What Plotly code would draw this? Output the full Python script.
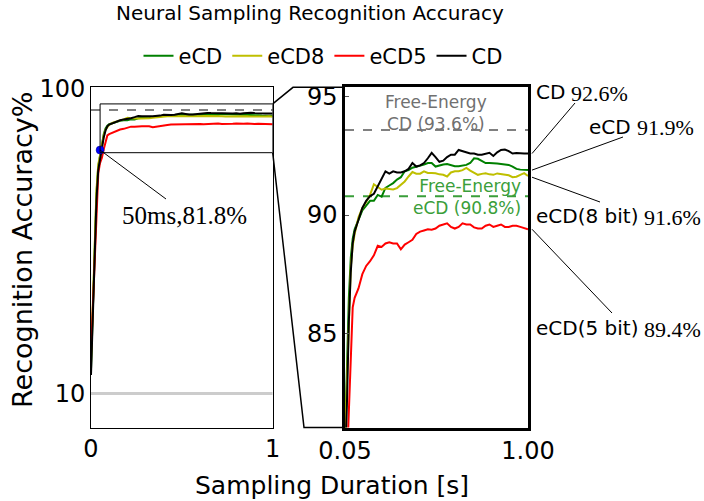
import plotly.graph_objects as go

# ---------------- data ----------------
T = [0.0, 0.01, 0.02, 0.03, 0.04, 0.05, 0.06, 0.07, 0.08, 0.09, 0.10, 0.12, 0.14, 0.16, 0.18,
     0.20, 0.22, 0.24, 0.26, 0.28, 0.30, 0.32, 0.34, 0.36, 0.38, 0.40, 0.42, 0.44, 0.46, 0.48,
     0.50, 0.52, 0.54, 0.56, 0.58, 0.60, 0.62, 0.64, 0.66, 0.68, 0.70, 0.72, 0.74, 0.76, 0.78,
     0.80, 0.82, 0.84, 0.86, 0.88, 0.90, 0.92, 0.94, 0.96, 0.98, 1.00]

CD = [15.5, 33, 53, 67, 76, 79.5, 82, 85.5, 87.6, 88.8, 89.3, 89.8, 90.3, 90.6, 90.8,
      90.9, 91.2, 91.5, 91.85, 91.75, 91.85, 91.8, 91.8, 91.85, 91.95, 92.2, 92.05, 92.1, 92.2, 92.4,
      92.63, 92.45, 92.25, 92.3, 92.45, 92.55, 92.55, 92.75, 92.7, 92.65, 92.6, 92.6, 92.55, 92.55, 92.6,
      92.63, 92.5, 92.65, 92.75, 92.77, 92.7, 92.6, 92.62, 92.6, 92.6, 92.6]

ECD = [17, 36, 56, 69, 77, 80.5, 83.5, 86.5, 88.2, 89.0, 89.4, 89.8, 90.2, 90.4, 90.6,
       90.6, 90.85, 90.78, 91.15, 91.25, 91.35, 91.5, 91.6, 91.85, 91.9, 92.0, 92.04, 92.1, 92.13, 92.2,
       92.2, 92.05, 92.1, 92.14, 92.16, 92.1, 92.06, 92.06, 92.08, 92.12, 92.2, 92.4, 92.38, 92.28, 92.2,
       92.2, 92.2, 92.18, 92.16, 92.14, 92.12, 92.05, 91.95, 91.92, 91.92, 91.9]

ECD8 = [19, 38, 57, 70, 77.5, 80.5, 83, 86, 87.8, 88.7, 89.2, 89.9, 90.3, 90.55, 90.85,
        91.3, 91.2, 91.07, 91.12, 91.1, 91.08, 91.14, 91.3, 91.42, 91.63, 91.82, 91.75, 91.75, 91.85, 91.78,
        91.78, 91.77, 91.72, 91.7, 91.63, 91.8, 91.85, 91.85, 91.9, 91.99, 91.88, 91.78, 91.7, 91.74, 91.77,
        91.72, 91.7, 91.76, 91.74, 91.72, 91.68, 91.6, 91.62, 91.7, 91.77, 91.65]

ECD5 = [22, 35, 52, 65, 75, 78, 79.5, 82, 84.5, 86.1, 86.5, 86.9, 87.5, 87.85, 88.05,
        88.3, 88.7, 88.65, 88.8, 88.85, 88.8, 88.8, 88.55, 88.75, 88.85, 88.95, 89.2, 89.3, 89.35, 89.4,
        89.38, 89.43, 89.55, 89.6, 89.65, 89.5, 89.43, 89.5, 89.65, 89.6, 89.6, 89.48, 89.43, 89.43, 89.55,
        89.6, 89.5, 89.55, 89.6, 89.5, 89.5, 89.55, 89.55, 89.5, 89.46, 89.4]

SERIES_NAMES = ["eCD", "eCD8", "eCD5", "CD"]
SERIES_VALUES = [ECD, ECD8, ECD5, CD]
SERIES_COLORS = ["#008000", "#bfbf00", "#ff0000", "#000000"]

FE_CD = 93.6
FE_ECD = 90.8
CHANCE = 10
MARK_T, MARK_ACC = 0.05, 81.8
FINAL_LABELS = ["CD", "eCD", "eCD(8 bit)", "eCD(5 bit)"]
FINAL_VALUES = [92.6, 91.9, 91.6, 89.4]

# ---------------- layout geometry (pixels) ----------------
W, H = 704, 501
LX = (91.0, 272.7)
RX = (345.0, 528.0)
YB, YT = 427.5, 87.3
L_XR = [0, 1]
L_YR = [0, 100.3]
R_XR = [0.05, 1.0]
R_YR = [81.02, 95.4]

FONT = "DejaVu Sans"
SERIF = "Liberation Serif"
LABEL_SIZE = 20
# DejaVu Sans advance widths (em) for the label characters
DV_W = {"C": 0.698, "D": 0.770, "e": 0.615, "(": 0.390, ")": 0.390, "8": 0.636, "5": 0.636,
        " ": 0.318, "b": 0.635, "i": 0.278, "t": 0.392}


def text_w(s, size):
    return sum(DV_W.get(c, 0.6) for c in s) * size


def pxx(x):
    return x / W


def pxy(y):
    return 1 - y / H


def l_pix(t, v):
    x = LX[0] + (t - L_XR[0]) / (L_XR[1] - L_XR[0]) * (LX[1] - LX[0])
    y = YB - (v - L_YR[0]) / (L_YR[1] - L_YR[0]) * (YB - YT)
    return x, y


def r_pix(t, v):
    x = RX[0] + (t - R_XR[0]) / (R_XR[1] - R_XR[0]) * (RX[1] - RX[0])
    y = YB - (v - R_YR[0]) / (R_YR[1] - R_YR[0]) * (YB - YT)
    return x, y


fig = go.Figure()

for name, vals, col in zip(SERIES_NAMES, SERIES_VALUES, SERIES_COLORS):
    fig.add_trace(go.Scatter(x=T, y=vals, mode="lines", name=name, legendgroup=name,
                             line=dict(color=col, width=2), xaxis="x", yaxis="y"))
for name, vals, col in zip(SERIES_NAMES, SERIES_VALUES, SERIES_COLORS):
    fig.add_trace(go.Scatter(x=T, y=vals, mode="lines", name=name, legendgroup=name,
                             showlegend=False, line=dict(color=col, width=2),
                             xaxis="x2", yaxis="y2"))

fig.add_trace(go.Scatter(x=[MARK_T], y=[MARK_ACC], mode="markers", showlegend=False,
                         marker=dict(color="#0000ff", size=8, line=dict(color="#000080", width=0.5)),
                         xaxis="x", yaxis="y", cliponaxis=False))

shapes = []
# chance line and free-energy line on left panel
shapes.append(dict(type="line", xref="x", yref="y", x0=0, x1=1, y0=CHANCE, y1=CHANCE,
                   line=dict(color="#cccccc", width=3), layer="below"))
shapes.append(dict(type="line", xref="x", yref="y", x0=0, x1=1, y0=FE_CD, y1=FE_CD,
                   line=dict(color="#808080", width=2, dash="dash"), layer="below"))
# inset rectangle
shapes.append(dict(type="rect", xref="x", yref="y", x0=R_XR[0], x1=R_XR[1], y0=R_YR[0], y1=R_YR[1],
                   line=dict(color="black", width=1)))
# free energy lines in right panel
shapes.append(dict(type="line", xref="x2", yref="y2", x0=R_XR[0], x1=R_XR[1], y0=FE_CD, y1=FE_CD,
                   line=dict(color="#808080", width=2, dash="dash"), layer="below"))
shapes.append(dict(type="line", xref="x2", yref="y2", x0=R_XR[0], x1=R_XR[1], y0=FE_ECD, y1=FE_ECD,
                   line=dict(color="#3a9e3a", width=2, dash="dash"), layer="below"))

# connectors between the inset rectangle and the zoom panel
ax0, ay0 = l_pix(R_XR[1], R_YR[1])
ax1, ay1 = l_pix(R_XR[1], R_YR[0])
for (sx, sy), (mx, my), (ex, ey) in [((ax0, ay0), (293, YT), (RX[0], YT)),
                                      ((ax1, ay1), (304, YB), (RX[0], YB))]:
    path = f"M{pxx(sx)},{pxy(sy)} L{pxx(mx)},{pxy(my)} L{pxx(ex)},{pxy(ey)}"
    shapes.append(dict(type="path", xref="paper", yref="paper", path=path,
                       line=dict(color="black", width=1.5)))

# leader for the 50 ms marker
mx_, my_ = l_pix(MARK_T, MARK_ACC)
shapes.append(dict(type="line", xref="paper", yref="paper", x0=pxx(mx_), y0=pxy(my_),
                   x1=pxx(166), y1=pxy(199), line=dict(color="black", width=1)))

# leaders for the final-value labels
LEAD_END = [(575, 103), (623, 137), (600, 202), (612, 313)]
TEXT_POS = [(537, 92), (590, 127), (537, 216), (537, 328)]
for v, (ex, ey) in zip(FINAL_VALUES, LEAD_END):
    sx, sy = r_pix(R_XR[1], v)
    shapes.append(dict(type="line", xref="paper", yref="paper", x0=pxx(sx + 4), y0=pxy(sy),
                       x1=pxx(ex), y1=pxy(ey), line=dict(color="black", width=1)))

annotations = []
for lab, v, (tx, ty) in zip(FINAL_LABELS, FINAL_VALUES, TEXT_POS):
    annotations.append(dict(text=lab, xref="paper", yref="paper", x=pxx(tx - 3), y=pxy(ty),
                            xanchor="left", yanchor="middle", showarrow=False,
                            font=dict(family=FONT, size=LABEL_SIZE, color="black")))
    vx = tx + text_w(lab, LABEL_SIZE) + 3
    annotations.append(dict(text=f"{v:.1f}%", xref="paper", yref="paper", x=pxx(vx), y=pxy(ty + 1),
                            xanchor="left", yanchor="middle", showarrow=False,
                            font=dict(family=SERIF, size=22, color="black")))

annotations.append(dict(text=f"{int(MARK_T*1000)}ms,{MARK_ACC}%", xref="paper", yref="paper",
                        x=pxx(185), y=pxy(215), xanchor="center", yanchor="middle", showarrow=False,
                        font=dict(family=SERIF, size=25, color="black")))

annotations.append(dict(text=f"Free-Energy<br>CD ({FE_CD}%)", xref="paper", yref="paper",
                        x=pxx(436), y=pxy(113), xanchor="center", yanchor="middle", showarrow=False,
                        font=dict(family=FONT, size=17, color="#707070")))
annotations.append(dict(text=f"Free-Energy<br>eCD ({FE_ECD}%)", xref="paper", yref="paper",
                        x=pxx(523), y=pxy(197), xanchor="right", yanchor="middle", showarrow=False,
                        align="right", font=dict(family=FONT, size=17, color="#3a9e3a")))

annotations.append(dict(text="Neural Sampling Recognition Accuracy", xref="paper", yref="paper",
                        x=pxx(310), y=pxy(13), xanchor="center", yanchor="middle", showarrow=False,
                        font=dict(family=FONT, size=20, color="black")))
annotations.append(dict(text="Sampling Duration [s]", xref="paper", yref="paper",
                        x=pxx(332), y=pxy(485), xanchor="center", yanchor="middle", showarrow=False,
                        font=dict(family=FONT, size=25, color="black")))
annotations.append(dict(text="Recognition Accuracy%", xref="paper", yref="paper",
                        x=pxx(22), y=pxy(250), xanchor="center", yanchor="middle", showarrow=False,
                        textangle=-90, font=dict(family=FONT, size=27, color="black")))

common = dict(showgrid=False, zeroline=False, showline=True, mirror=True, linecolor="black",
              automargin=False, tickfont=dict(family=FONT, size=24, color="black"))

fig.update_layout(
    width=W, height=H,
    margin=dict(l=0, r=0, t=0, b=0),
    paper_bgcolor="white", plot_bgcolor="white",
    showlegend=True,
    legend=dict(orientation="h", x=pxx(323), y=pxy(56), xanchor="center", yanchor="middle",
                font=dict(family=FONT, size=21, color="black"), bgcolor="rgba(0,0,0,0)",
                itemwidth=30, tracegroupgap=0),
    xaxis=dict(domain=[pxx(LX[0]), pxx(LX[1])], range=L_XR, tickvals=[0, 1], ticktext=["0", "1"],
               anchor="y", linewidth=1, ticks="", **common),
    yaxis=dict(domain=[pxy(YB), pxy(YT)], range=L_YR, tickvals=[10, 100], ticktext=["10", "100"],
               anchor="x", linewidth=1, ticks="", **common),
    xaxis2=dict(domain=[pxx(RX[0]), pxx(RX[1])], range=R_XR, tickvals=[0.05, 1.0],
                ticktext=["0.05", "1.00"], anchor="y2", linewidth=2.5, ticks="", **common),
    yaxis2=dict(domain=[pxy(YB), pxy(YT)], range=R_YR, tickvals=[85, 90, 95],
                anchor="x2", linewidth=2.5, ticks="inside", ticklen=4, tickcolor="#555555",
                **common),
    shapes=shapes,
    annotations=annotations,
)

fig.write_html("out.html")
